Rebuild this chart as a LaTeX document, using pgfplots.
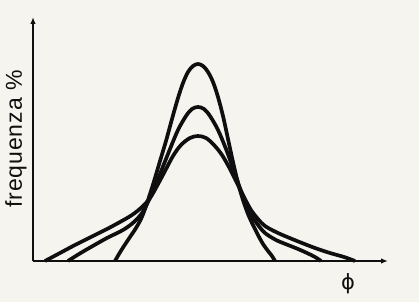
\documentclass[border=0pt]{standalone}
\usepackage{pgfplots}
\pgfplotsset{compat=1.18}
\usepackage{fontspec}
\setmainfont{Liberation Sans}
\newfontfamily\labelfont[LetterSpace=4]{Liberation Sans}
\newfontfamily\dejavu{DejaVu Sans}
\usetikzlibrary{arrows.meta}
\definecolor{bg}{RGB}{245,244,238}
\definecolor{ink}{RGB}{15,15,15}
\begin{document}
\begin{tikzpicture}
\fill[bg] (-33pt,-41pt) rectangle (386pt,261pt);
\node[rotate=90, ink, inner sep=0pt] at (-17pt,122pt) {\labelfont\fontsize{23}{26}\selectfont frequenza \%};
\node[ink, inner sep=0pt] at (315pt,-23pt) {\dejavu\fontsize{21}{24}\selectfont ϕ};
\begin{axis}[
  scale only axis, width=355pt, height=244pt,
  xmin=33, xmax=388, ymin=0, ymax=244,
  axis lines=left,
  axis line style={ink, line width=1.4pt, -{Latex[length=7pt,width=5.5pt]}},
  xtick=\empty, ytick=\empty,
  clip=false,
]
\addplot[ink, line width=3.7pt, smooth, tension=0.55] coordinates {
(115,0)(119,7)(124,15)(130,24)(136,33)(141,42)(145,52)(150,67)(155,83)(160,100)(166,120)(172,142)(178,163)(183,178)(188,189)(193,195)(198,197)
(203,195)(208,189)(213,179)(218,164)(223,145)(228,122)(233,99)(238,78)(243,61)(248,47)(253,36)(258,26)(263,17)(268,10)(272,5)(275,0)};
\addplot[ink, line width=3.7pt, smooth, tension=0.55] coordinates {
(68,0)(79,7)(91,14)(107,23)(123,31)(134,39)(142,48)(148,59)(155,74)(162,92)(170,112)(178,131)(186,145)(192,152)(198,154)
(204,152)(210,145)(218,131)(226,112)(234,90)(241,70)(247,55)(252,45)(258,36)(265,28)(276,21)(288,16)(298,12)(307,8)(315,4)(321,0)};
\addplot[ink, line width=3.7pt, smooth, tension=0.55] coordinates {
(45,0)(60,8)(75,16)(91,24)(107,32)(120,39)(132,46)(142,54)(150,63)(157,75)(165,90)(173,105)(181,116)(190,123)(198,125)
(206,123)(214,116)(222,106)(230,92)(238,76)(245,62)(251,51)(258,42)(265,35)(278,28)(297,20)(315,13)(330,8)(344,4)(355,0)};
\end{axis}
\end{tikzpicture}
\end{document}
